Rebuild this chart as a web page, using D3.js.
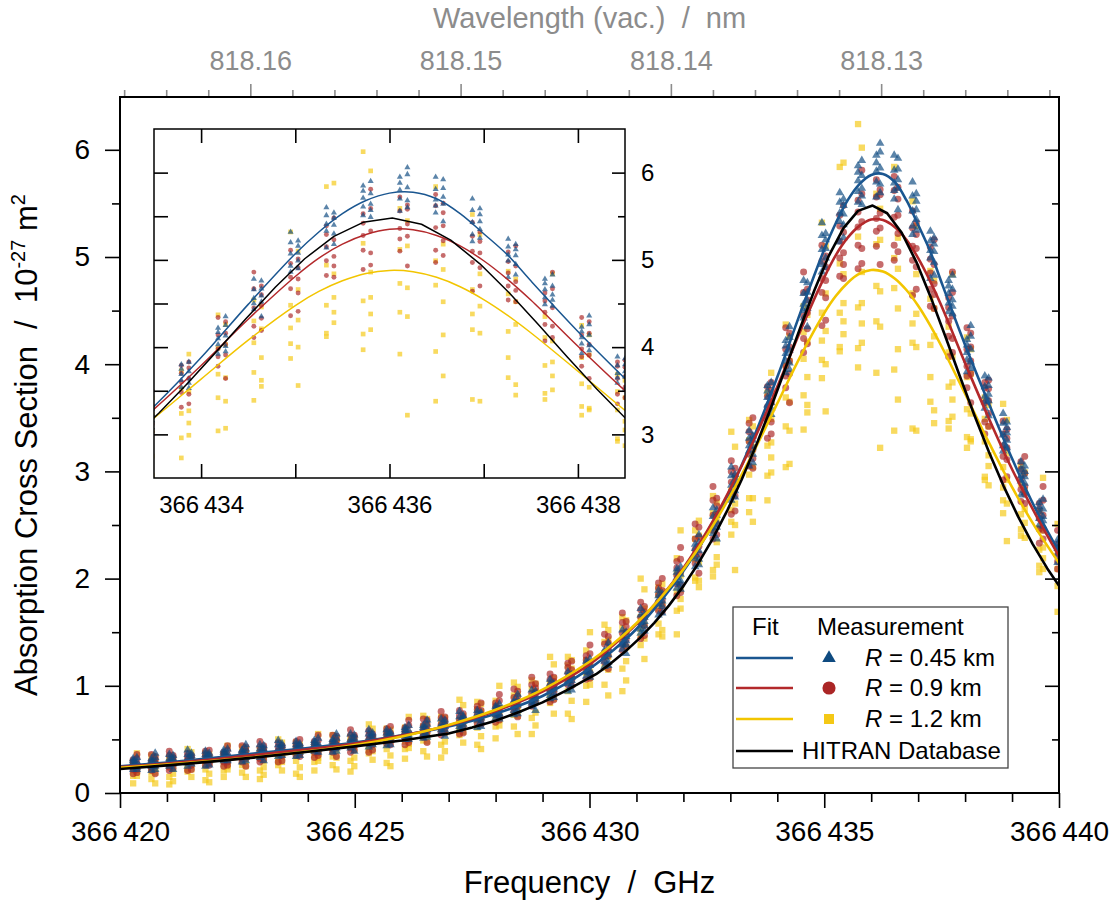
<!DOCTYPE html>
<html>
<head>
<meta charset="utf-8">
<script src="https://cdnjs.cloudflare.com/ajax/libs/d3/7.8.5/d3.min.js"></script>
<style>
  body { margin: 0; background: #ffffff; }
  svg { display: block; }
</style>
</head>
<body>
<svg id="chart" width="1116" height="904"></svg>
<script>
// ---------------------------------------------------------------
// Absorption cross section of the 366 436 GHz line: measurements at
// three path lengths R, Lorentz-type fits and the HITRAN profile.
// ---------------------------------------------------------------

// Axis ticks
const freqMajor = [366420, 366425, 366430, 366435, 366440];
const csMajor = [0, 1, 2, 3, 4, 5, 6];
const csMinor = [0.5, 1.5, 2.5, 3.5, 4.5, 5.5];
const wlMajor = [818.13, 818.14, 818.15, 818.16];
const insetFreqMajor = [366434, 366436, 366438];
const insetFreqMinor = [366435, 366437];
const insetCsMajor = [3, 4, 5, 6];
const insetCsMinor = [3.5, 4.5, 5.5];

// Series labels (legend)
const seriesRange = ["0.45 km", "0.9 km", "1.2 km"];

// Fit curves, sampled in frequency (GHz)
const fitFreq = [366420, 366421, 366422, 366423, 366424, 366425, 366426, 366427, 366428, 366429, 366430,
  366430.5, 366431, 366431.5, 366432, 366432.5, 366433, 366433.5, 366434, 366434.5,
  366435, 366435.25, 366435.5, 366435.75, 366436, 366436.25, 366436.5, 366436.75, 366437, 366437.25, 366437.5,
  366438, 366438.5, 366439, 366439.5, 366440];
const fitBlue = [0.248, 0.285, 0.328, 0.375, 0.42, 0.47, 0.538, 0.62, 0.74, 0.905, 1.16,
  1.33, 1.53, 1.78, 2.07, 2.41, 2.83, 3.32, 3.88, 4.49,
  5.07, 5.32, 5.53, 5.68, 5.765, 5.775, 5.70, 5.53, 5.30, 5.06, 4.76,
  4.18, 3.64, 3.12, 2.65, 2.25];
const fitRed = [0.242, 0.275, 0.315, 0.36, 0.408, 0.462, 0.535, 0.63, 0.765, 0.945, 1.20,
  1.375, 1.575, 1.815, 2.10, 2.44, 2.84, 3.29, 3.79, 4.32,
  4.81, 5.02, 5.18, 5.29, 5.35, 5.345, 5.28, 5.16, 4.99, 4.78, 4.54,
  4.01, 3.50, 3.02, 2.60, 2.21];
const fitYellow = [0.236, 0.265, 0.30, 0.34, 0.388, 0.448, 0.528, 0.635, 0.776, 0.965, 1.224,
  1.389, 1.583, 1.814, 2.086, 2.405, 2.774, 3.187, 3.634, 4.08,
  4.477, 4.638, 4.76, 4.844, 4.879, 4.864, 4.80, 4.692, 4.545, 4.367, 4.165,
  3.724, 3.275, 2.853, 2.475, 2.146];

// HITRAN line profile (tabulated grid)
const hitranFreq = [366420, 366421, 366422, 366423, 366424, 366425, 366426, 366427, 366427.5, 366428, 366428.5,
  366429, 366429.5, 366430.14, 366430.45, 366430.76, 366431.07, 366431.38, 366431.69, 366432.00, 366432.31,
  366432.62, 366432.93, 366433.24, 366433.55, 366433.86, 366434.17, 366434.48, 366434.79, 366435.10, 366435.41,
  366435.72, 366436.03, 366436.34, 366436.65, 366436.96, 366437.27, 366437.58, 366437.89, 366438.20, 366438.51,
  366438.82, 366439.13, 366439.44, 366439.75, 366440.06];
const hitranCs = [0.224, 0.258, 0.295, 0.337, 0.385, 0.435, 0.49, 0.555, 0.61, 0.675, 0.755,
  0.845, 0.955, 1.108, 1.207, 1.319, 1.445, 1.587, 1.748, 1.930, 2.137,
  2.369, 2.631, 2.922, 3.243, 3.59, 3.957, 4.33, 4.69, 5.013, 5.27,
  5.43, 5.48, 5.408, 5.226, 4.955, 4.623, 4.258, 3.885, 3.521, 3.179,
  2.863, 2.578, 2.322, 2.095, 1.894];

// Measurement frequencies of the two scan directions
const scanUp = [366420.28, 366420.67, 366421.05, 366421.44, 366421.82, 366422.21, 366422.60, 366422.98, 366423.37,
  366423.75, 366424.14, 366424.53, 366424.91, 366425.30, 366425.68, 366426.07, 366426.46, 366426.84, 366427.23,
  366427.61, 366428.00, 366428.39, 366428.77, 366429.16, 366429.54, 366429.93, 366430.32, 366430.70, 366431.09,
  366431.47, 366431.86, 366432.25, 366432.63, 366433.02, 366433.40, 366433.79, 366434.18, 366434.56, 366434.95,
  366435.33, 366435.72, 366436.11, 366436.49, 366436.88, 366437.26, 366437.65, 366438.04, 366438.42, 366438.81,
  366439.19, 366439.58, 366439.97];
const scanDown = [366420.36, 366420.75, 366421.13, 366421.52, 366421.90, 366422.29, 366422.68, 366423.06, 366423.45,
  366423.83, 366424.22, 366424.61, 366424.99, 366425.38, 366425.76, 366426.15, 366426.54, 366426.92, 366427.31,
  366427.69, 366428.08, 366428.47, 366428.85, 366429.24, 366429.62, 366430.01, 366430.40, 366430.78, 366431.17,
  366431.55, 366431.94, 366432.33, 366432.71, 366433.10, 366433.48, 366433.87, 366434.26, 366434.64, 366435.03,
  366435.41, 366435.80, 366436.19, 366436.57, 366436.96, 366437.34, 366437.73, 366438.12, 366438.50, 366438.89,
  366439.27, 366439.66, 366440.05];

// R = 0.45 km (triangles)
const triUp = [[.32,.28,.25,.22,.30],[.25,.32,.28,.21,.30],[.32,.25,.36,.29,.27],[.25,.32,.28,.36,.40],[.33,.25,.36,.31,.39],
  [.40,.36,.33,.30,.38],[.33,.40,.36,.29,.39],[.41,.33,.45,.37,.36],[.34,.41,.36,.45,.49],[.42,.34,.45,.39,.48],
  [.49,.45,.42,.39,.47],[.42,.50,.45,.38,.48],[.50,.42,.55,.47,.45],[.43,.51,.46,.55,.59],[.53,.44,.56,.50,.59],
  [.61,.57,.53,.50,.59],[.55,.63,.58,.51,.61],[.64,.56,.69,.61,.59],[.59,.66,.62,.71,.76],[.70,.61,.74,.68,.77],
  [.81,.76,.73,.70,.79],[.77,.86,.81,.73,.84],[.90,.81,.96,.86,.84],[.88,.96,.91,1.02,1.06],[1.05,.95,1.09,1.02,1.13],
  [1.23,1.17,1.13,1.09,1.20],[1.23,1.33,1.27,1.18,1.31],[1.45,1.34,1.52,1.40,1.38],[1.49,1.59,1.53,1.66,1.72],[1.80,1.66,1.84,1.76,1.89],
  [2.09,2.01,1.96,1.91,2.06],[2.19,2.32,2.24,2.11,2.28],[2.58,2.42,2.66,2.51,2.47],[2.73,2.87,2.78,2.96,3.04],[3.24,3.05,3.31,3.19,3.38],
  [3.80,3.69,3.62,3.54,3.75],[4.03,4.22,4.10,3.92,4.17],[4.66,4.43,4.78,4.56,4.50],[4.86,5.07,4.93,5.20,5.32],[5.41,5.14,5.51,5.33,5.60],
  [5.85,5.71,5.61,5.51,5.79],[5.70,5.95,5.80,5.56,5.88],[5.81,5.54,5.95,5.69,5.62],[5.21,5.43,5.29,5.57,5.70],[5.06,4.80,5.15,4.99,5.24],
  [4.78,4.66,4.57,4.49,4.73],[4.04,4.23,4.11,3.93,4.18],[3.79,3.59,3.89,3.70,3.65],[3.19,3.34,3.24,3.45,3.54],[2.96,2.78,3.02,2.91,3.09],
  [2.71,2.62,2.56,2.50,2.67],[2.23,2.36,2.28,2.15,2.32]];
const triDown = [[.29,.22,.33,.26,.24],[.22,.29,.25,.33,.37],[.30,.22,.32,.27,.35],[.37,.32,.30,.27,.35],[.30,.37,.33,.26,.35],
  [.37,.30,.41,.34,.32],[.30,.37,.33,.41,.45],[.38,.30,.41,.36,.44],[.46,.41,.38,.35,.44],[.38,.46,.41,.35,.44],
  [.46,.38,.51,.43,.41],[.39,.46,.42,.51,.55],[.48,.39,.51,.45,.54],[.56,.51,.48,.45,.54],[.49,.57,.52,.45,.55],
  [.58,.50,.63,.54,.52],[.52,.59,.54,.64,.68],[.62,.53,.65,.59,.68],[.72,.67,.64,.61,.70],[.67,.75,.70,.62,.73],
  [.78,.69,.83,.74,.72],[.74,.82,.77,.87,.92],[.88,.77,.91,.85,.95],[1.02,.97,.93,.89,1.00],[1.01,1.10,1.05,.96,1.08],
  [1.19,1.08,1.25,1.14,1.12],[1.19,1.29,1.22,1.35,1.40],[1.42,1.30,1.46,1.38,1.50],[1.67,1.60,1.56,1.51,1.64],[1.74,1.86,1.79,1.68,1.83],
  [2.04,1.90,2.11,1.98,1.95],[2.13,2.26,2.18,2.34,2.41],[2.53,2.37,2.59,2.48,2.64],[2.97,2.88,2.82,2.76,2.93],[3.16,3.33,3.23,3.08,3.29],
  [3.72,3.53,3.83,3.64,3.59],[3.95,4.13,4.01,4.25,4.35],[4.59,4.35,4.67,4.52,4.76],[5.22,5.08,4.99,4.90,5.16],[5.30,5.54,5.40,5.18,5.48],
  [5.76,5.49,5.90,5.64,5.57],[5.60,5.83,5.68,5.98,6.06],[5.72,5.44,5.82,5.64,5.92],[5.59,5.44,5.35,5.25,5.52],[4.95,5.18,5.05,4.83,5.12],
  [4.70,4.47,4.83,4.60,4.54],[3.96,4.14,4.02,4.26,4.36],[3.72,3.52,3.80,3.66,3.87],[3.46,3.36,3.29,3.22,3.41],[2.89,3.05,2.95,2.80,3.00],
  [2.65,2.49,2.74,2.58,2.54],[2.17,2.30,2.22,2.38,2.45]];

// R = 0.9 km (circles)
const dotUp = [[.22,.31,.26,.18,.29],[.30,.21,.36,.26,.24],[.21,.29,.24,.35,.39],[.31,.21,.34,.28,.37],[.39,.33,.30,.26,.36],
  [.29,.38,.33,.25,.36],[.38,.29,.44,.34,.32],[.29,.38,.32,.43,.48],[.39,.29,.43,.36,.47],[.48,.42,.38,.35,.45],
  [.38,.48,.42,.33,.45],[.48,.38,.54,.44,.41],[.38,.48,.42,.54,.59],[.50,.38,.54,.46,.58],[.60,.54,.50,.46,.57],
  [.51,.61,.55,.45,.58],[.63,.52,.69,.58,.55],[.54,.64,.57,.70,.76],[.68,.55,.72,.64,.77],[.81,.74,.70,.65,.78],
  [.73,.84,.77,.66,.81],[.89,.76,.97,.84,.80],[.81,.93,.85,1.01,1.08],[1.00,.85,1.06,.96,1.11],[1.21,1.12,1.06,1.01,1.17],
  [1.13,1.28,1.19,1.06,1.24],[1.39,1.22,1.48,1.31,1.27],[1.33,1.49,1.39,1.59,1.68],[1.64,1.44,1.71,1.58,1.78],[1.96,1.85,1.78,1.70,1.91],
  [1.95,2.16,2.03,1.84,2.10],[2.37,2.14,2.51,2.27,2.21],[2.37,2.59,2.45,2.73,2.86],[2.90,2.60,3.00,2.81,3.10],[3.45,3.28,3.16,3.05,3.37],
  [3.48,3.79,3.60,3.31,3.70],[4.14,3.78,4.34,3.98,3.89],[4.11,4.45,4.24,4.67,4.86],[4.80,4.36,4.96,4.67,5.11],[5.39,5.15,4.99,4.82,5.29],
  [5.11,5.53,5.28,4.89,5.42],[5.56,5.10,5.72,5.36,5.24],[4.97,5.37,5.11,5.62,5.75],[5.10,4.64,5.27,4.97,5.43],[5.09,4.85,4.70,4.54,4.98],
  [4.26,4.62,4.40,4.07,4.53],[4.14,3.78,4.34,3.98,3.89],[3.35,3.64,3.46,3.83,3.78],[3.24,2.92,3.35,3.14,3.47],[3.09,2.93,2.83,2.72,3.02],
  [2.46,2.70,2.56,2.33,2.64],[2.32,2.09,2.45,2.22,2.16]];
const dotDown = [[.19,.27,.22,.32,.36],[.28,.18,.31,.25,.34],[.35,.30,.27,.23,.33],[.26,.35,.30,.22,.33],[.35,.26,.40,.31,.28],
  [.26,.34,.29,.40,.44],[.35,.25,.39,.32,.43],[.44,.38,.35,.31,.41],[.35,.44,.38,.30,.42],[.44,.34,.50,.40,.37],
  [.35,.43,.38,.49,.54],[.45,.34,.49,.42,.53],[.54,.48,.44,.40,.52],[.45,.55,.49,.40,.52],[.56,.45,.62,.51,.49],
  [.47,.56,.50,.63,.68],[.59,.47,.64,.56,.68],[.71,.64,.60,.56,.68],[.62,.74,.67,.56,.71],[.77,.64,.84,.71,.68],
  [.68,.79,.72,.86,.92],[.85,.71,.90,.81,.95],[1.02,.94,.89,.84,.98],[.94,1.08,.99,.87,1.04],[1.15,1.00,1.23,1.08,1.05],
  [1.07,1.21,1.12,1.30,1.38],[1.33,1.16,1.40,1.28,1.46],[1.60,1.50,1.43,1.37,1.55],[1.56,1.74,1.63,1.47,1.69],[1.89,1.69,2.00,1.80,1.75],
  [1.87,2.06,1.94,2.18,2.29],[2.30,2.05,2.39,2.23,2.48],[2.75,2.60,2.51,2.41,2.68],[2.77,3.03,2.88,2.63,2.96],[3.33,3.03,3.50,3.20,3.12],
  [3.35,3.64,3.46,3.83,3.76],[4.03,3.64,4.16,3.91,4.29],[4.70,4.48,4.33,4.19,4.60],[4.62,5.01,4.78,4.41,4.91],[5.23,4.80,5.48,5.04,4.93],
  [4.94,5.33,5.08,5.59,5.81],[5.41,4.93,5.58,5.27,5.63],[5.65,5.39,5.22,5.05,5.54],[4.91,5.32,5.08,4.70,5.21],[4.93,4.52,5.16,4.75,4.65],
  [4.11,4.45,4.24,4.67,4.86],[4.03,3.64,4.16,3.91,4.29],[3.85,3.66,3.54,3.42,3.77],[3.11,3.39,3.22,2.95,3.31],[2.98,2.70,3.14,2.86,2.79],
  [2.37,2.59,2.45,2.73,2.86],[2.25,2.00,2.34,2.18,2.42]];

// R = 1.2 km (squares)
const sqUp = [[.29,.21,.16,.26,.09],[.24,.35,.19,.13,.29],[.29,.15,.25,.33,.08],[.22,.29,.41,.20,.25],[.37,.12,.27,.33,.22],
  [.36,.27,.21,.32,.15],[.30,.43,.26,.19,.36],[.37,.21,.33,.41,.13],[.29,.37,.50,.26,.32],[.47,.18,.35,.42,.30],
  [.46,.35,.29,.41,.21],[.40,.54,.34,.26,.46],[.48,.30,.43,.52,.20],[.40,.48,.64,.37,.43],[.60,.28,.47,.55,.41],
  [.61,.48,.41,.55,.32],[.55,.72,.49,.39,.62],[.66,.45,.60,.71,.33],[.58,.68,.87,.54,.62],[.85,.45,.68,.78,.61],
  [.86,.71,.62,.80,.51],[.82,1.03,.73,.62,.91],[.97,.70,.90,1.05,.55],[.89,1.02,1.27,.84,.94],[1.27,.74,1.05,1.19,.95],
  [1.33,1.12,1.00,1.24,.85],[1.28,1.57,1.17,1.01,1.41],[1.54,1.16,1.43,1.64,.95],[1.46,1.64,2.00,1.38,1.53],[1.92,1.48,1.72,1.85,1.58],
  [2.19,1.88,1.70,2.05,1.48],[2.18,2.45,2.01,1.98,2.37],[2.61,2.02,2.45,2.77,2.08],[2.53,2.82,3.37,2.41,2.64],[3.48,2.62,2.97,3.29,2.75],
  [3.73,3.24,2.96,3.52,2.73],[3.69,4.37,3.42,3.04,3.99],[4.30,3.39,4.05,4.54,3.71],[4.04,4.48,5.32,3.87,4.22],[5.84,4.12,4.48,4.94,4.16],
  [5.19,4.53,4.15,6.24,3.97],[4.73,5.59,4.40,3.92,5.12],[4.99,3.95,4.71,5.84,3.38],[4.20,4.66,5.52,3.40,4.38],[4.87,3.65,4.18,4.61,3.88],
  [4.35,3.79,3.47,4.11,3.40],[3.58,4.25,3.32,3.22,3.88],[3.49,2.95,3.28,3.69,2.92],[2.73,3.04,3.63,2.61,2.85],[3.05,2.46,2.60,2.88,2.40],
  [2.63,2.27,2.06,2.47,2.12],[2.09,2.51,1.93,1.69,2.28]];
const sqDown = [[.19,.25,.37,.16,.21],[.33,.09,.23,.29,.19],[.32,.23,.18,.28,.11],[.26,.38,.22,.15,.31],[.32,.18,.28,.36,.10],
  [.25,.32,.44,.22,.27],[.41,.15,.30,.37,.25],[.40,.30,.24,.35,.17],[.34,.47,.29,.21,.39],[.41,.24,.36,.45,.15],
  [.33,.40,.55,.30,.36],[.51,.22,.39,.47,.33],[.51,.40,.33,.46,.25],[.45,.60,.39,.31,.51],[.54,.35,.49,.59,.25],
  [.46,.54,.71,.42,.49],[.69,.34,.54,.63,.48],[.70,.56,.48,.64,.39],[.64,.82,.57,.47,.72],[.76,.53,.70,.83,.41],
  [.68,.79,1.00,.63,.72],[.99,.55,.80,.92,.72],[1.02,.85,.75,.95,.63],[.97,1.20,.88,.74,1.07],[1.16,.86,1.08,1.24,.69],
  [1.07,1.22,1.50,1.01,1.13],[1.52,.91,1.27,1.43,1.15],[1.61,1.36,1.23,1.50,1.05],[1.57,1.90,1.44,1.25,1.72],[1.88,1.52,1.76,1.95,1.46],
  [1.81,2.03,2.45,1.72,1.90],[2.54,1.92,2.15,2.40,1.98],[2.71,2.34,2.13,2.55,2.20],[2.70,3.23,2.50,2.08,2.94],[3.23,2.53,3.04,3.42,2.75],
  [3.13,3.49,3.92,2.99,3.27],[4.26,3.07,3.65,4.03,3.38],[4.46,3.88,3.55,4.21,3.62],[4.31,5.10,4.00,3.56,4.66],[4.84,4.40,4.57,5.88,4.28],
  [4.38,4.86,6.02,4.20,4.57],[5.45,3.22,4.68,5.16,4.35],[5.18,4.52,4.14,4.89,3.67],[4.47,5.29,4.16,3.38,4.84],[4.52,3.57,4.26,4.78,3.45],
  [3.67,4.07,4.84,3.51,3.83],[4.14,3.30,3.54,3.91,3.28],[3.62,3.15,2.87,3.42,3.05],[2.92,3.48,2.70,2.35,3.17],[2.82,2.52,2.65,2.99,2.38],
  [2.19,2.45,2.94,2.09,2.29],[2.44,1.55,2.07,2.30,1.90]];

// ---------------------------------------------------------------
const FONT = '"Liberation Sans", Arial, Helvetica, sans-serif';
const C_LIGHT = 299792458; // wavelength in nm = c / frequency in GHz
const COL = {
  blue: "#1a5690", blueMark: "#0e4a80",
  red: "#b3292b", redMark: "#ab2626",
  yellow: "#f2c500", yellowMark: "#f4c815",
  black: "#000000", gray: "#8c8c8c"
};
const MARK_ALPHA = 0.68;

const svg = d3.select("#chart").attr("font-family", FONT);
const defs = svg.append("defs");

const P = { left: 120, right: 1059, top: 97, bottom: 793 };
const I = { left: 154, right: 625, top: 129, bottom: 478 };

const x = d3.scaleLinear().domain([366420, 366440]).range([P.left, P.right]);
const y = d3.scaleLinear().domain([0, 6.5]).range([P.bottom, P.bottom - 6.5 * 107.2]);
const wl = d3.scaleLinear().domain([C_LIGHT / 366420, C_LIGHT / 366440]).range([P.left, P.right]);
const xi = d3.scaleLinear().domain([366433.5, 366438.5]).range([I.left, I.right]);
const yi = d3.scaleLinear().domain([2.5, 6.5]).range([I.bottom, I.top]);

const thinSplit = v => { const s = String(v); return s.slice(0, 3) + "\u2009" + s.slice(3); };

function points(up, down) {
  const out = [];
  up.forEach((vals, k) => vals.forEach(v => out.push({ f: scanUp[k], v })));
  down.forEach((vals, k) => vals.forEach(v => out.push({ f: scanDown[k], v })));
  return out;
}
const seriesPts = [
  { pts: points(sqUp, sqDown), shape: d3.symbolSquare, color: COL.yellowMark, line: COL.yellow, fit: fitYellow },
  { pts: points(dotUp, dotDown), shape: d3.symbolCircle, color: COL.redMark, line: COL.red, fit: fitRed },
  { pts: points(triUp, triDown), shape: d3.symbolTriangle, color: COL.blueMark, line: COL.blue, fit: fitBlue }
];
const markSize = {
  main: new Map([[d3.symbolSquare, 40], [d3.symbolCircle, 38], [d3.symbolTriangle, 32]]),
  inset: new Map([[d3.symbolSquare, 22], [d3.symbolCircle, 19], [d3.symbolTriangle, 16]])
};

function drawPanel(g, xs, ys, sizes, lw, clipId, box) {
  defs.append("clipPath").attr("id", clipId).append("rect")
    .attr("x", box.left).attr("y", box.top)
    .attr("width", box.right - box.left).attr("height", box.bottom - box.top);
  const body = g.append("g").attr("clip-path", `url(#${clipId})`);
  seriesPts.forEach(s => {
    const sym = d3.symbol().type(s.shape).size(sizes.get(s.shape));
    body.append("g").selectAll("path").data(s.pts).join("path")
      .attr("d", sym)
      .attr("transform", d => `translate(${xs(d.f)},${ys(d.v)})`)
      .attr("fill", s.color).attr("fill-opacity", MARK_ALPHA);
  });
  const smooth = d3.line().x(d => xs(d[0])).y(d => ys(d[1])).curve(d3.curveCatmullRom.alpha(0.5));
  [seriesPts[2], seriesPts[1], seriesPts[0]].forEach(s => {
    body.append("path").datum(fitFreq.map((f, i) => [f, s.fit[i]]))
      .attr("d", smooth).attr("fill", "none").attr("stroke", s.line).attr("stroke-width", lw);
  });
  const straight = d3.line().x(d => xs(d[0])).y(d => ys(d[1]));
  body.append("path").datum(hitranFreq.map((f, i) => [f, hitranCs[i]]))
    .attr("d", straight).attr("fill", "none").attr("stroke", COL.black).attr("stroke-width", lw)
    .attr("stroke-linejoin", "round");
}

function styleAxis(g, color, size) {
  g.attr("font-family", FONT).attr("font-size", size);
  g.select(".domain").remove();
  g.selectAll(".tick line").attr("stroke", color).attr("stroke-width", 1.6);
  g.selectAll(".tick text").attr("fill", color);
}

// ---------------- main panel ----------------
const main = svg.append("g");
drawPanel(main, x, y, markSize.main, 2.6, "clip-main", P);

const freqMinor = d3.range(366420, 366441).filter(v => !freqMajor.includes(v));
const wlMinor = d3.range(818122, 818167, 2).filter(v => v % 10 !== 0).map(v => v / 1000);

// bottom
main.append("g").attr("transform", `translate(0,${P.bottom})`)
  .call(d3.axisBottom(x).tickValues(freqMinor).tickSize(9).tickFormat(""))
  .call(g => styleAxis(g, "#000", 28));
main.append("g").attr("transform", `translate(0,${P.bottom})`)
  .call(d3.axisBottom(x).tickValues(freqMajor).tickSize(15).tickPadding(13).tickFormat(thinSplit))
  .call(g => styleAxis(g, "#000", 28));
// left
main.append("g").attr("transform", `translate(${P.left},0)`)
  .call(d3.axisLeft(y).tickValues(csMinor).tickSize(8).tickFormat(""))
  .call(g => styleAxis(g, "#000", 28));
main.append("g").attr("transform", `translate(${P.left},0)`)
  .call(d3.axisLeft(y).tickValues(csMajor).tickSize(15).tickPadding(15).tickFormat(d3.format("d")))
  .call(g => styleAxis(g, "#000", 28));
// right (inward)
main.append("g").attr("transform", `translate(${P.right},0)`)
  .call(d3.axisRight(y).tickValues(csMinor).tickSize(-7).tickFormat(""))
  .call(g => styleAxis(g, "#000", 28));
main.append("g").attr("transform", `translate(${P.right},0)`)
  .call(d3.axisRight(y).tickValues(csMajor.slice(1)).tickSize(-14).tickFormat(""))
  .call(g => styleAxis(g, "#000", 28));
// top: vacuum wavelength
main.append("g").attr("transform", `translate(0,${P.top})`)
  .call(d3.axisTop(wl).tickValues(wlMinor).tickSize(7).tickFormat(""))
  .call(g => styleAxis(g, COL.gray, 27));
main.append("g").attr("transform", `translate(0,${P.top})`)
  .call(d3.axisTop(wl).tickValues(wlMajor).tickSize(13).tickPadding(14).tickFormat(d3.format(".2f")))
  .call(g => styleAxis(g, COL.gray, 27));

// frame
main.append("rect").attr("x", P.left).attr("y", P.top)
  .attr("width", P.right - P.left).attr("height", P.bottom - P.top)
  .attr("fill", "none").attr("stroke", "#000").attr("stroke-width", 2);

// axis titles
svg.append("text").attr("x", (P.left + P.right) / 2).attr("y", 893)
  .attr("text-anchor", "middle").attr("font-size", 31).attr("fill", "#000")
  .attr("xml:space", "preserve").text("Frequency  /  GHz");
svg.append("text").attr("x", (P.left + P.right) / 2).attr("y", 28)
  .attr("text-anchor", "middle").attr("font-size", 29).attr("fill", COL.gray)
  .attr("xml:space", "preserve").text("Wavelength (vac.)  /  nm");
const yt = svg.append("text").attr("transform", `translate(37,${(P.top + P.bottom) / 2}) rotate(-90)`)
  .attr("text-anchor", "middle").attr("font-size", 31).attr("fill", "#000")
  .attr("xml:space", "preserve");
yt.append("tspan").text("Absorption Cross Section  /  10");
yt.append("tspan").attr("font-size", 20).attr("dy", -12).text("-27");
yt.append("tspan").attr("dy", 12).text(" m");
yt.append("tspan").attr("font-size", 20).attr("dy", -12).text("2");

// ---------------- inset ----------------
const ins = svg.append("g");
ins.append("rect").attr("x", I.left).attr("y", I.top)
  .attr("width", I.right - I.left).attr("height", I.bottom - I.top).attr("fill", "#fff");
drawPanel(ins, xi, yi, markSize.inset, 1.5, "clip-inset", I);

ins.append("g").attr("transform", `translate(0,${I.bottom})`)
  .call(d3.axisBottom(xi).tickValues(insetFreqMinor).tickSize(-14).tickFormat(""))
  .call(g => styleAxis(g, "#000", 24));
ins.append("g").attr("transform", `translate(0,${I.bottom})`)
  .call(d3.axisBottom(xi).tickValues(insetFreqMajor).tickSize(-14).tickPadding(18).tickFormat(thinSplit))
  .call(g => styleAxis(g, "#000", 24));
ins.append("g").attr("transform", `translate(0,${I.top})`)
  .call(d3.axisTop(xi).tickValues(insetFreqMajor.concat(insetFreqMinor)).tickSize(-14).tickFormat(""))
  .call(g => styleAxis(g, "#000", 24));
ins.append("g").attr("transform", `translate(${I.left},0)`)
  .call(d3.axisLeft(yi).tickValues(insetCsMajor.concat(insetCsMinor)).tickSize(-14).tickFormat(""))
  .call(g => styleAxis(g, "#000", 24));
ins.append("g").attr("transform", `translate(${I.right},0)`)
  .call(d3.axisRight(yi).tickValues(insetCsMinor).tickSize(-7).tickFormat(""))
  .call(g => styleAxis(g, "#000", 24));
ins.append("g").attr("transform", `translate(${I.right},0)`)
  .call(d3.axisRight(yi).tickValues(insetCsMajor).tickSize(-13).tickPadding(16).tickFormat(d3.format("d")))
  .call(g => styleAxis(g, "#000", 24));
ins.append("rect").attr("x", I.left).attr("y", I.top)
  .attr("width", I.right - I.left).attr("height", I.bottom - I.top)
  .attr("fill", "none").attr("stroke", "#000").attr("stroke-width", 1.5);

// ---------------- legend ----------------
const lg = svg.append("g").attr("font-size", 24).attr("fill", "#000");
lg.append("rect").attr("x", 733).attr("y", 607).attr("width", 275).attr("height", 161)
  .attr("fill", "#fff").attr("stroke", "#444").attr("stroke-width", 1.3);
lg.append("text").attr("x", 752).attr("y", 635).text("Fit");
lg.append("text").attr("x", 817).attr("y", 635).text("Measurement");
const rowY = [658, 688, 719, 751];
const legendSeries = [seriesPts[2], seriesPts[1], seriesPts[0]];
const legendMarkSize = new Map([[d3.symbolTriangle, 80], [d3.symbolCircle, 135], [d3.symbolSquare, 100]]);
legendSeries.forEach((s, i) => {
  lg.append("line").attr("x1", 736).attr("x2", 793).attr("y1", rowY[i]).attr("y2", rowY[i])
    .attr("stroke", s.line).attr("stroke-width", 2.6);
  lg.append("path").attr("d", d3.symbol().type(s.shape).size(legendMarkSize.get(s.shape)))
    .attr("transform", `translate(829,${rowY[i]})`).attr("fill", s.color);
  const t = lg.append("text").attr("x", 865).attr("y", rowY[i] + 8).attr("xml:space", "preserve");
  t.append("tspan").attr("font-style", "italic").text("R");
  t.append("tspan").text(" = " + seriesRange[i]);
});
lg.append("line").attr("x1", 736).attr("x2", 793).attr("y1", rowY[3]).attr("y2", rowY[3])
  .attr("stroke", COL.black).attr("stroke-width", 2.6);
lg.append("text").attr("x", 802).attr("y", rowY[3] + 8).text("HITRAN Database");
</script>
</body>
</html>
